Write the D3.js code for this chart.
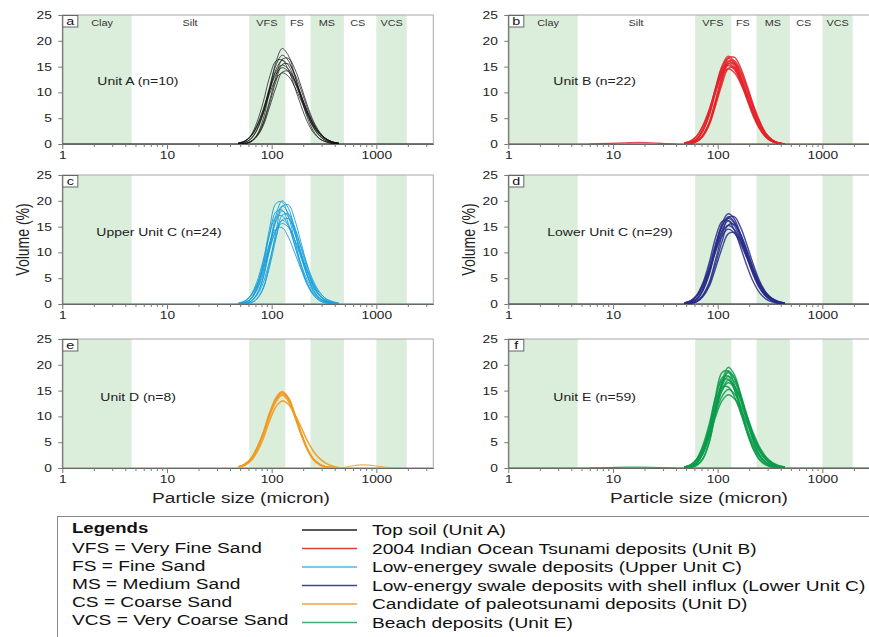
<!DOCTYPE html>
<html><head><meta charset="utf-8">
<script src="https://cdn.jsdelivr.net/npm/d3@7"></script>
<style>body{margin:0;background:#fff}svg{display:block;font-family:'Liberation Sans',Arial,sans-serif}</style>
</head><body>
<script>
// ---------- DATA ----------
// particle size bins (micron) at which the volume curves are sampled
const sizeBins = [48, 55, 63, 72, 83, 95, 110, 126, 145, 166, 191, 219, 251, 288, 331, 380, 437];

// Volume (%) per bin, one array per sample curve
const unitA = [
  [0.0, 0.1, 0.4, 1.7, 4.8, 10.2, 15.9, 18.5, 17.1, 13.4, 9.0, 5.1, 2.5, 1.0, 0.4, 0.1, 0.0],
  [0.1, 0.3, 1.0, 2.7, 6.1, 10.9, 15.3, 17.2, 16.1, 13.2, 9.5, 6.0, 3.3, 1.6, 0.7, 0.2, 0.1],
  [0.0, 0.1, 0.5, 1.6, 4.1, 8.2, 13.0, 16.4, 16.6, 14.6, 11.2, 7.5, 4.4, 2.3, 1.0, 0.4, 0.1],
  [0.1, 0.5, 1.6, 4.1, 8.1, 12.8, 16.1, 16.3, 14.3, 11.0, 7.4, 4.3, 2.2, 1.0, 0.4, 0.1, 0.0],
  [0.1, 0.3, 0.9, 2.6, 5.8, 10.2, 14.4, 16.2, 15.2, 12.4, 8.9, 5.6, 3.1, 1.5, 0.6, 0.2, 0.1],
  [0.0, 0.1, 0.5, 1.5, 3.9, 7.7, 12.2, 15.4, 15.5, 13.6, 10.5, 7.0, 4.1, 2.1, 1.0, 0.4, 0.1],
  [0.2, 0.6, 1.5, 3.5, 6.7, 10.6, 14.0, 15.3, 14.5, 12.3, 9.3, 6.3, 3.8, 2.1, 1.0, 0.4, 0.2],
  [0.2, 0.5, 1.5, 3.4, 6.5, 10.3, 13.5, 14.8, 14.0, 11.9, 9.0, 6.1, 3.7, 2.0, 1.0, 0.4, 0.2],
  [0.0, 0.1, 0.4, 1.4, 3.5, 7.0, 11.0, 13.9, 14.1, 12.3, 9.5, 6.4, 3.7, 1.9, 0.9, 0.3, 0.1],
  [0.2, 0.5, 1.4, 3.2, 6.0, 9.6, 12.6, 13.8, 13.1, 11.1, 8.4, 5.7, 3.4, 1.9, 0.9, 0.4, 0.2]
];
const unitB = [
  [0.1, 0.3, 1.0, 2.7, 6.0, 10.7, 15.1, 17.0, 15.9, 13.1, 9.4, 5.9, 3.2, 1.4, 0.5, 0.1, 0.0],
  [0.0, 0.1, 0.5, 1.7, 4.2, 8.3, 13.2, 16.6, 16.8, 14.7, 11.3, 7.6, 4.5, 2.1, 0.8, 0.2, 0.0],
  [0.1, 0.3, 0.9, 2.6, 5.9, 10.5, 14.8, 16.6, 15.5, 12.7, 9.2, 5.8, 3.2, 1.4, 0.5, 0.1, 0.0],
  [0.0, 0.1, 0.5, 1.6, 4.0, 8.0, 12.7, 15.9, 16.1, 14.1, 10.9, 7.3, 4.3, 2.0, 0.8, 0.2, 0.0],
  [0.1, 0.3, 0.9, 2.5, 5.7, 10.2, 14.3, 16.1, 15.1, 12.4, 8.9, 5.6, 3.1, 1.4, 0.5, 0.1, 0.0],
  [0.0, 0.1, 0.5, 1.5, 3.9, 7.7, 12.3, 15.5, 15.6, 13.7, 10.5, 7.1, 4.2, 2.0, 0.8, 0.2, 0.0],
  [0.1, 0.2, 0.9, 2.5, 5.5, 9.8, 13.9, 15.6, 14.6, 12.0, 8.6, 5.4, 3.0, 1.4, 0.5, 0.1, 0.0],
  [0.2, 0.6, 1.5, 3.5, 6.7, 10.5, 13.9, 15.2, 14.4, 12.2, 9.2, 6.2, 3.6, 1.8, 0.7, 0.2, 0.0],
  [0.0, 0.1, 0.5, 1.5, 3.7, 7.3, 11.6, 14.6, 14.8, 12.9, 9.9, 6.7, 3.9, 1.8, 0.7, 0.2, 0.0],
  [0.2, 0.5, 1.5, 3.4, 6.4, 10.1, 13.3, 14.6, 13.8, 11.7, 8.9, 6.0, 3.4, 1.7, 0.7, 0.2, 0.0]
];
const upperUnitC = [
  [0.0, 0.1, 0.5, 1.9, 5.2, 11.0, 17.2, 20.0, 18.5, 14.5, 9.7, 5.6, 2.7, 1.1, 0.4, 0.1, 0.0],
  [0.0, 0.2, 1.0, 3.3, 8.0, 14.4, 19.5, 19.8, 16.9, 12.3, 7.6, 4.0, 1.8, 0.7, 0.2, 0.1, 0.0],
  [0.0, 0.0, 0.2, 1.0, 3.2, 7.7, 14.0, 18.9, 19.2, 16.4, 11.9, 7.4, 3.9, 1.7, 0.7, 0.2, 0.1],
  [0.0, 0.1, 0.5, 1.8, 5.0, 10.5, 16.4, 19.0, 17.5, 13.8, 9.3, 5.3, 2.6, 1.1, 0.4, 0.1, 0.0],
  [0.0, 0.2, 0.9, 3.0, 7.3, 13.3, 17.9, 18.2, 15.5, 11.3, 7.0, 3.7, 1.7, 0.6, 0.2, 0.1, 0.0],
  [0.1, 0.3, 1.0, 2.8, 6.4, 11.4, 16.0, 18.0, 16.8, 13.8, 9.9, 6.2, 3.4, 1.7, 0.7, 0.3, 0.1],
  [0.0, 0.0, 0.2, 0.9, 2.9, 7.0, 12.7, 17.2, 17.4, 14.9, 10.8, 6.7, 3.5, 1.6, 0.6, 0.2, 0.1],
  [0.1, 0.5, 1.7, 4.2, 8.5, 13.4, 16.9, 17.1, 15.0, 11.5, 7.7, 4.6, 2.3, 1.1, 0.4, 0.1, 0.0],
  [0.0, 0.1, 0.5, 1.6, 4.1, 8.2, 13.0, 16.3, 16.5, 14.5, 11.1, 7.5, 4.4, 2.3, 1.0, 0.4, 0.1],
  [0.1, 0.3, 0.9, 2.6, 5.8, 10.2, 14.4, 16.2, 15.2, 12.4, 8.9, 5.6, 3.1, 1.5, 0.6, 0.2, 0.1],
  [0.2, 0.6, 1.6, 3.6, 6.8, 10.8, 14.2, 15.6, 14.8, 12.5, 9.5, 6.4, 3.9, 2.1, 1.0, 0.5, 0.2],
  [0.1, 0.5, 1.5, 3.7, 7.3, 11.6, 14.6, 14.8, 12.9, 9.9, 6.7, 3.9, 2.0, 0.9, 0.4, 0.1, 0.0]
];
const lowerUnitC = [
  [0.1, 0.3, 1.0, 2.8, 6.2, 11.0, 15.6, 17.5, 16.4, 13.4, 9.7, 6.1, 3.3, 1.6, 0.7, 0.3, 0.1],
  [0.0, 0.1, 0.5, 1.7, 4.2, 8.4, 13.3, 16.7, 16.9, 14.8, 11.4, 7.7, 4.5, 2.3, 1.0, 0.4, 0.1],
  [0.1, 0.3, 0.9, 2.7, 6.0, 10.7, 15.1, 16.9, 15.8, 13.0, 9.3, 5.9, 3.2, 1.6, 0.7, 0.2, 0.1],
  [0.2, 0.6, 1.7, 3.8, 7.3, 11.5, 15.1, 16.6, 15.7, 13.3, 10.1, 6.8, 4.1, 2.2, 1.1, 0.5, 0.2],
  [0.1, 0.5, 1.6, 4.0, 8.0, 12.7, 16.0, 16.2, 14.2, 10.9, 7.3, 4.3, 2.2, 1.0, 0.4, 0.1, 0.0],
  [0.1, 0.3, 0.9, 2.5, 5.7, 10.2, 14.3, 16.1, 15.1, 12.4, 8.9, 5.6, 3.1, 1.5, 0.6, 0.2, 0.1],
  [0.0, 0.1, 0.5, 1.5, 3.8, 7.6, 12.1, 15.3, 15.4, 13.5, 10.4, 7.0, 4.1, 2.1, 1.0, 0.4, 0.1],
  [0.2, 0.6, 1.5, 3.5, 6.7, 10.5, 13.9, 15.2, 14.4, 12.2, 9.2, 6.2, 3.8, 2.1, 1.0, 0.4, 0.2],
  [0.2, 0.5, 1.5, 3.3, 6.4, 10.0, 13.2, 14.5, 13.7, 11.6, 8.8, 6.0, 3.6, 2.0, 1.0, 0.4, 0.2],
  [0.0, 0.1, 0.4, 1.4, 3.4, 6.8, 10.8, 13.6, 13.8, 12.1, 9.3, 6.2, 3.7, 1.9, 0.9, 0.3, 0.1]
];
const unitD = [
  [0.2, 0.7, 1.7, 3.8, 6.8, 10.5, 13.6, 14.8, 13.6, 10.5, 6.8, 3.8, 1.7, 0.7, 0.2, 0.1, 0.0],
  [0.2, 0.7, 1.7, 3.7, 6.7, 10.4, 13.4, 14.6, 13.4, 10.4, 6.7, 3.7, 1.7, 0.7, 0.2, 0.1, 0.0],
  [0.2, 0.7, 1.7, 3.7, 6.7, 10.2, 13.2, 14.4, 13.2, 10.2, 6.7, 3.7, 1.7, 0.7, 0.2, 0.1, 0.0],
  [0.2, 0.6, 1.6, 3.6, 6.5, 10.0, 12.9, 14.1, 12.9, 10.0, 6.5, 3.6, 1.6, 0.6, 0.2, 0.1, 0.0],
  [0.1, 0.5, 1.3, 3.0, 5.7, 9.0, 11.9, 13.0, 12.3, 10.4, 7.9, 5.3, 3.2, 1.8, 0.9, 0.4, 0.1]
];
const unitE = [
  [0.0, 0.1, 0.5, 1.8, 5.1, 10.8, 16.8, 19.5, 18.0, 14.2, 9.5, 5.4, 2.6, 1.1, 0.4, 0.1, 0.0],
  [0.0, 0.2, 0.9, 3.1, 7.6, 13.7, 18.5, 18.8, 16.0, 11.7, 7.2, 3.8, 1.7, 0.7, 0.2, 0.1, 0.0],
  [0.0, 0.1, 0.5, 1.7, 4.9, 10.4, 16.2, 18.8, 17.4, 13.6, 9.2, 5.2, 2.5, 1.1, 0.4, 0.1, 0.0],
  [0.1, 0.3, 1.0, 2.9, 6.6, 11.7, 16.5, 18.5, 17.3, 14.2, 10.2, 6.4, 3.5, 1.7, 0.7, 0.3, 0.1],
  [0.0, 0.2, 0.9, 2.9, 7.2, 13.0, 17.5, 17.8, 15.2, 11.0, 6.8, 3.6, 1.6, 0.6, 0.2, 0.1, 0.0],
  [0.1, 0.3, 1.0, 2.8, 6.3, 11.2, 15.9, 17.8, 16.7, 13.7, 9.8, 6.2, 3.4, 1.7, 0.7, 0.3, 0.1],
  [0.1, 0.5, 1.7, 4.3, 8.5, 13.5, 17.0, 17.2, 15.1, 11.6, 7.8, 4.6, 2.4, 1.1, 0.4, 0.1, 0.0],
  [0.1, 0.3, 1.0, 2.7, 6.0, 10.7, 15.1, 17.0, 15.9, 13.1, 9.4, 5.9, 3.2, 1.6, 0.7, 0.2, 0.1],
  [0.2, 0.6, 1.7, 3.8, 7.2, 11.4, 15.0, 16.5, 15.6, 13.2, 10.0, 6.8, 4.1, 2.2, 1.1, 0.5, 0.2],
  [0.1, 0.5, 1.6, 3.9, 7.8, 12.4, 15.6, 15.7, 13.8, 10.6, 7.1, 4.2, 2.2, 1.0, 0.4, 0.1, 0.0],
  [0.2, 0.6, 1.5, 3.5, 6.7, 10.5, 13.9, 15.2, 14.4, 12.2, 9.2, 6.2, 3.8, 2.1, 1.0, 0.4, 0.2],
  [0.2, 0.5, 1.4, 3.3, 6.2, 9.8, 13.0, 14.2, 13.4, 11.4, 8.6, 5.8, 3.5, 1.9, 0.9, 0.4, 0.2]
];
// small secondary modes
const unitBFineSizes  = [6, 9, 13, 18, 24, 31, 40];
const unitBFineValues = [0, 0.12, 0.25, 0.32, 0.25, 0.08, 0];
const unitDCoarseSizes  = [420, 500, 600, 720, 860, 1000, 1250, 1600, 2000];
const unitDCoarseValues = [0, 0.15, 0.45, 0.6, 0.55, 0.4, 0.15, 0.03, 0];
const unitEFineSizes  = [6, 9, 13, 18, 24, 31, 40];
const unitEFineValues = [0, 0.08, 0.18, 0.2, 0.15, 0.05, 0];

// grain size classes (micron)
const bandRanges = [[1, 4.6], [61, 135], [235, 490], [1000, 1950]];
const bandNames = ['Clay', 'Silt', 'VFS', 'FS', 'MS', 'CS', 'VCS'];
const bandNameAt = [2.4, 16.6, 90, 174, 337, 665, 1400];

const xMajorTicks = [1, 10, 100, 1000];
const xTickLabels = ['1', '10', '100', '1000'];
const yTicks = [0, 5, 10, 15, 20, 25];

const panelLetters = ['a', 'b', 'c', 'd', 'e', 'f'];
const panelLabels = ['Unit A (n=10)', 'Unit B (n=22)', 'Upper Unit C (n=24)', 'Lower Unit C (n=29)', 'Unit D (n=8)', 'Unit E (n=59)'];

const sandLegend = ['VFS = Very Fine Sand', 'FS = Fine Sand', 'MS = Medium Sand', 'CS = Coarse Sand', 'VCS = Very Coarse Sand'];
const seriesLegend = ['Top soil (Unit A)', '2004 Indian Ocean Tsunami deposits (Unit B)', 'Low-energey swale deposits (Upper Unit C)',
  'Low-energy swale deposits with shell influx (Lower Unit C)', 'Candidate of paleotsunami deposits (Unit D)', 'Beach deposits (Unit E)'];

// ---------- STYLE / LAYOUT ----------
const W = 869, H = 637, PW = 371, PH = 129;
const lineColors = ['#151515', '#e4232a', '#1a9fdb', '#282c88', '#f29a1f', '#0c9b4b'];
const legendColors = ['#222222', '#e0403c', '#4fb6e6', '#3d4596', '#f2a33a', '#3cae6e'];
const SX = 1.25; // horizontal text stretch of the reference

const panels = [
  {data: unitA, x0: 62.3, y0: 15, lx: 35, ly: 70, sw: 0.8, op: 0.9, bands: true},
  {data: unitB, x0: 508.3, y0: 15, lx: 45, ly: 70, sw: 1.5, op: 0.85, bands: true, extra: [unitBFineSizes, unitBFineValues]},
  {data: upperUnitC, x0: 62.3, y0: 175, lx: 34, ly: 61, sw: 1.0, op: 0.9},
  {data: lowerUnitC, x0: 508.3, y0: 175, lx: 39, ly: 61, sw: 1.4, op: 0.85},
  {data: unitD, x0: 62.3, y0: 339, lx: 38, ly: 62, sw: 1.6, op: 0.9, extra: [unitDCoarseSizes, unitDCoarseValues]},
  {data: unitE, x0: 508.3, y0: 339, lx: 45, ly: 62, sw: 1.5, op: 0.85, extra: [unitEFineSizes, unitEFineValues]}
];

const svg = d3.select('body').append('svg').attr('width', W).attr('height', H);

function stext(parent, x, y, str, size, sx, anchor, extra) {
  return parent.append('text')
    .attr('transform', `translate(${x},${y}) scale(${sx},1)` + (extra || ''))
    .attr('font-size', size).attr('text-anchor', anchor || 'start')
    .attr('fill', '#222').text(str);
}

const x = d3.scaleLog().domain([1, 3500]).range([0, PW]);
const y = d3.scaleLinear().domain([0, 25]).range([PH, 0]);
const allTicks = [];
[1, 10, 100, 1000].forEach(p => { for (let m = 1; m <= 9; m++) { if (m * p <= 3500) allTicks.push(m * p); } });

const line = d3.line().x(d => x(d[0])).y(d => y(d[1])).curve(d3.curveCatmullRom.alpha(0.5));

panels.forEach((p, i) => {
  const g = svg.append('g').attr('transform', `translate(${p.x0},${p.y0})`);
  const cid = 'clip' + i;
  g.append('clipPath').attr('id', cid).append('rect').attr('x', 0).attr('y', -2).attr('width', PW).attr('height', PH + 2);

  g.selectAll('rect.band').data(bandRanges).join('rect').attr('class', 'band')
    .attr('x', d => x(d[0])).attr('width', d => x(d[1]) - x(d[0]))
    .attr('y', 0).attr('height', PH).attr('fill', '#dbeedb');

  if (p.bands) {
    bandNames.forEach((n, k) => stext(g, x(bandNameAt[k]), 10.5, n, 8.5, 1.28, 'middle').attr('fill', '#333'));
  }

  g.append('rect').attr('x', 0).attr('y', 0).attr('width', PW).attr('height', PH)
    .attr('fill', 'none').attr('stroke', '#a8a8a8').attr('stroke-width', 1);

  const cg = g.append('g').attr('clip-path', `url(#${cid})`);
  cg.append('path').attr('d', line([[1, 0], [3500, 0]]).replace(/C/g, 'L'))
    .attr('stroke', lineColors[i]).attr('stroke-width', 1).attr('fill', 'none');
  if (p.extra) {
    cg.append('path').attr('d', line(p.extra[0].map((s, k) => [s, p.extra[1][k]])))
      .attr('fill', 'none').attr('stroke', lineColors[i]).attr('stroke-width', 1.1).attr('opacity', 0.8);
  }
  cg.selectAll('path.curve').data(p.data).join('path').attr('class', 'curve')
    .attr('d', vals => line(sizeBins.map((s, k) => [s, vals[k]])))
    .attr('fill', 'none').attr('stroke', lineColors[i]).attr('stroke-width', p.sw).attr('opacity', p.op);

  // axes
  const xa = g.append('g').attr('transform', `translate(0,${PH})`)
    .call(d3.axisBottom(x).tickValues(allTicks).tickSize(3).tickSizeOuter(0).tickPadding(4)
      .tickFormat(d => { const k = xMajorTicks.indexOf(d); return k >= 0 ? xTickLabels[k] : ''; }));
  xa.select('.domain').attr('stroke', '#666');
  xa.selectAll('.tick line').attr('stroke', '#777').attr('y2', d => xMajorTicks.includes(d) ? 5 : 3);
  xa.selectAll('.tick text').attr('font-size', 11).attr('fill', '#222').attr('font-family', null)
    .attr('transform', `scale(${SX},1)`);

  const ya = g.append('g')
    .call(d3.axisLeft(y).tickValues(yTicks).tickSize(4).tickSizeOuter(0).tickPadding(6));
  ya.select('.domain').attr('stroke', '#666');
  ya.selectAll('.tick line').attr('stroke', '#777');
  ya.selectAll('.tick text').attr('font-size', 11).attr('fill', '#222').attr('font-family', null)
    .attr('x', -10.5 / SX).attr('transform', `scale(${SX},1)`);

  // panel letter
  g.append('rect').attr('x', 0.5).attr('y', 0.5).attr('width', 15).attr('height', 11.5)
    .attr('fill', '#fff').attr('stroke', '#666');
  stext(g, 8, 10, panelLetters[i], 11.5, SX, 'middle').attr('fill', '#111');

  stext(g, p.lx, p.ly, panelLabels[i], 11, 1.27, 'start');
});

// axis titles
stext(svg, 29, 239.5, 'Volume (%)', 14, SX, 'middle', ' rotate(-90)');
stext(svg, 475, 239.5, 'Volume (%)', 14, SX, 'middle', ' rotate(-90)');
stext(svg, 241, 503, 'Particle size (micron)', 15.5, 1.23, 'middle');
stext(svg, 699, 503, 'Particle size (micron)', 15.5, 1.23, 'middle');

// legend
const lg = svg.append('g');
lg.append('rect').attr('x', 57.5).attr('y', 516.5).attr('width', 900).attr('height', 200)
  .attr('fill', 'none').attr('stroke', '#8a8a8a');
stext(lg, 72, 533, 'Legends', 14.5, 1.28, 'start').attr('font-weight', 'bold').attr('fill', '#111');
sandLegend.forEach((t, k) => stext(lg, 72, 552.5 + k * 18.2, t, 14.5, 1.32, 'start').attr('fill', '#111'));
seriesLegend.forEach((t, k) => {
  const cy = 530 + k * 18.5;
  lg.append('line').attr('x1', 302).attr('x2', 357).attr('y1', cy).attr('y2', cy)
    .attr('stroke', legendColors[k]).attr('stroke-width', 1.6);
  stext(lg, 372, cy + 5, t, 14.5, 1.32, 'start').attr('fill', '#111');
});
</script>
</body></html>
